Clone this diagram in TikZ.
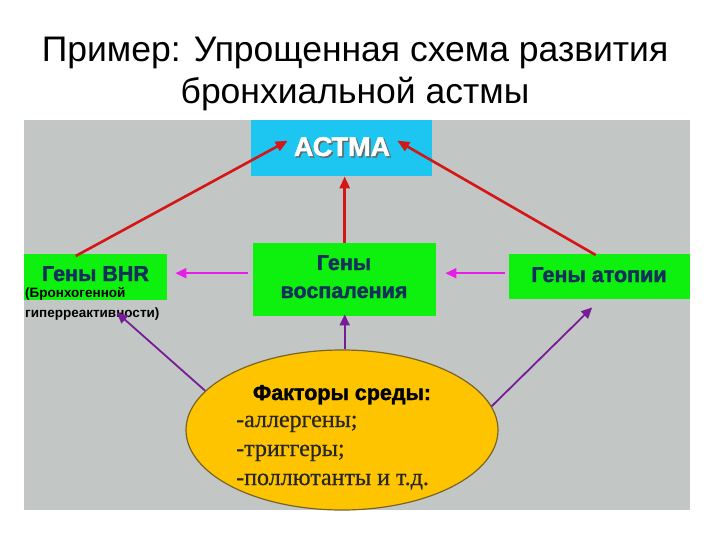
\documentclass[tikz,border=0pt]{standalone}
\usepackage{fontspec}
\setmainfont{Liberation Sans}
\newfontfamily\seriffont{Liberation Serif}[FakeBold=0.6]
\newfontfamily\heavyfont{Liberation Sans}[BoldFeatures={FakeBold=1.6}]
\usetikzlibrary{arrows.meta,shapes.geometric,calc}
\definecolor{panel}{RGB}{194,198,196}
\definecolor{cyanbox}{RGB}{28,198,240}
\definecolor{greenbox}{RGB}{14,240,14}
\definecolor{navy}{RGB}{18,48,90}
\definecolor{ellfill}{RGB}{255,196,0}
\definecolor{elldraw}{RGB}{120,100,40}
\definecolor{redarr}{RGB}{212,22,22}
\definecolor{pinkarr}{RGB}{232,30,232}
\definecolor{purparr}{RGB}{118,28,150}
\tikzset{
  box/.style={draw=none, inner sep=0pt, anchor=north west},
  boxtext/.style={text=navy, font=\heavyfont\bfseries\fontsize{21.5}{24}\selectfont, anchor=base, inner sep=0pt},
  redarrow/.style={draw=redarr, line width=2.6pt, -{Triangle[length=12pt,width=10pt]}},
  pinkarrow/.style={draw=pinkarr, line width=2pt, -{Triangle[length=11pt,width=10pt]}},
  purparrow/.style={draw=purparr, line width=1.8pt, -{Triangle[length=11pt,width=10pt]}},
  sertext/.style={font=\seriffont\fontsize{24}{26}\selectfont, anchor=base west, inner sep=0pt, text=black!85}
}
\begin{document}
\begin{tikzpicture}[x=1pt,y=-1pt]
\useasboundingbox (0,0) rectangle (720,540);
\fill[white] (0,0) rectangle (720,540);
% title
\node[anchor=base, inner sep=0pt, font=\fontsize{35.5}{40}\selectfont] (t1) at (355,62) {Пример: Упрощенная схема развития};
\node[anchor=base, inner sep=0pt, font=\fontsize{35.5}{40}\selectfont] (t2) at (355,104) {бронхиальной астмы};
% panel
\fill[panel] (24,120) rectangle (690,510);
% boxes
\node[box, minimum width=181pt, minimum height=56pt, fill=cyanbox] (astma) at (251,120) {};
\node[anchor=base, inner sep=0pt, text=black!60, font=\heavyfont\bfseries\fontsize{27}{30}\selectfont] (astmash) at (343.5,157.5) {АСТМА};
\node[anchor=base, inner sep=0pt, text=white, font=\heavyfont\bfseries\fontsize{27}{30}\selectfont] (astmatxt) at (342,156) {АСТМА};
\node[box, minimum width=143pt, minimum height=46pt, fill=greenbox] (bhr) at (24,254) {};
\node[box, minimum width=183pt, minimum height=73pt, fill=greenbox] (vosp) at (253,243) {};
\node[box, minimum width=181pt, minimum height=45pt, fill=greenbox] (atopy) at (509,254) {};
\node[boxtext] (bhrtxt) at (95.5,281) {Гены BHR};
\node[boxtext] (vosp1) at (344,270) {Гены};
\node[boxtext] (vosp2) at (344,298) {воспаления};
\node[boxtext] (atopytxt) at (599,282) {Гены атопии};
\node[anchor=base west, inner sep=0pt, font=\bfseries\fontsize{13.5}{15}\selectfont] (bhrsub1) at (25,297) {(Бронхогенной};
\node[anchor=base west, inner sep=0pt, font=\bfseries\fontsize{13.5}{15}\selectfont] (bhrsub2) at (25,317) {гиперреактивности)};
% ellipse
\node[ellipse, draw=elldraw, line width=1.2pt, fill=ellfill, minimum width=312pt, minimum height=160pt, inner sep=0pt] (fact) at (342,430) {};
\node[anchor=base, inner sep=0pt, font=\heavyfont\bfseries\fontsize{21.5}{24}\selectfont] (facttitle) at (342,400) {Факторы среды:};
\node[sertext] (f1) at (236,427) {-аллергены;};
\node[sertext] (f2) at (236,456) {-триггеры;};
\node[sertext] (f3) at (236,485) {-поллютанты и т.д.};
% red arrows
\draw[redarrow] ($(bhr.north)+(-20,2)$) -- ($(astmatxt.west)+(-6,-6)$);
\draw[redarrow] ($(atopy.north)+(-4,1)$) -- ($(astmatxt.east)+(7,-6)$);
\draw[redarrow] (vosp.north) -- (vosp.north |- astma.south);
% pink arrows
\coordinate (pinky) at ($(bhr.east)+(0,-4)$);
\coordinate (pinkstartl) at ($(vosp.west |- pinky)+(-5,0)$);
\coordinate (pinkendl) at ($(pinky)+(8,0)$);
\coordinate (pinkstartr) at ($(atopy.west |- pinky)+(-4,0)$);
\coordinate (pinkendr) at ($(vosp.east |- pinky)+(9,0)$);
\draw[pinkarrow] (pinkstartl) -- (pinkendl);
\draw[pinkarrow] (pinkstartr) -- (pinkendr);
% purple arrows
\draw[purparrow] (vosp.south |- fact.north) -- ([yshift=2pt]vosp.south);
\draw[purparrow] (fact.164.7) -- ($(bhr.south)+(21,12)$);
\draw[purparrow] (fact.9.5) -- ($(atopy.south)+(-7.5,8)$);
\end{tikzpicture}
\end{document}
